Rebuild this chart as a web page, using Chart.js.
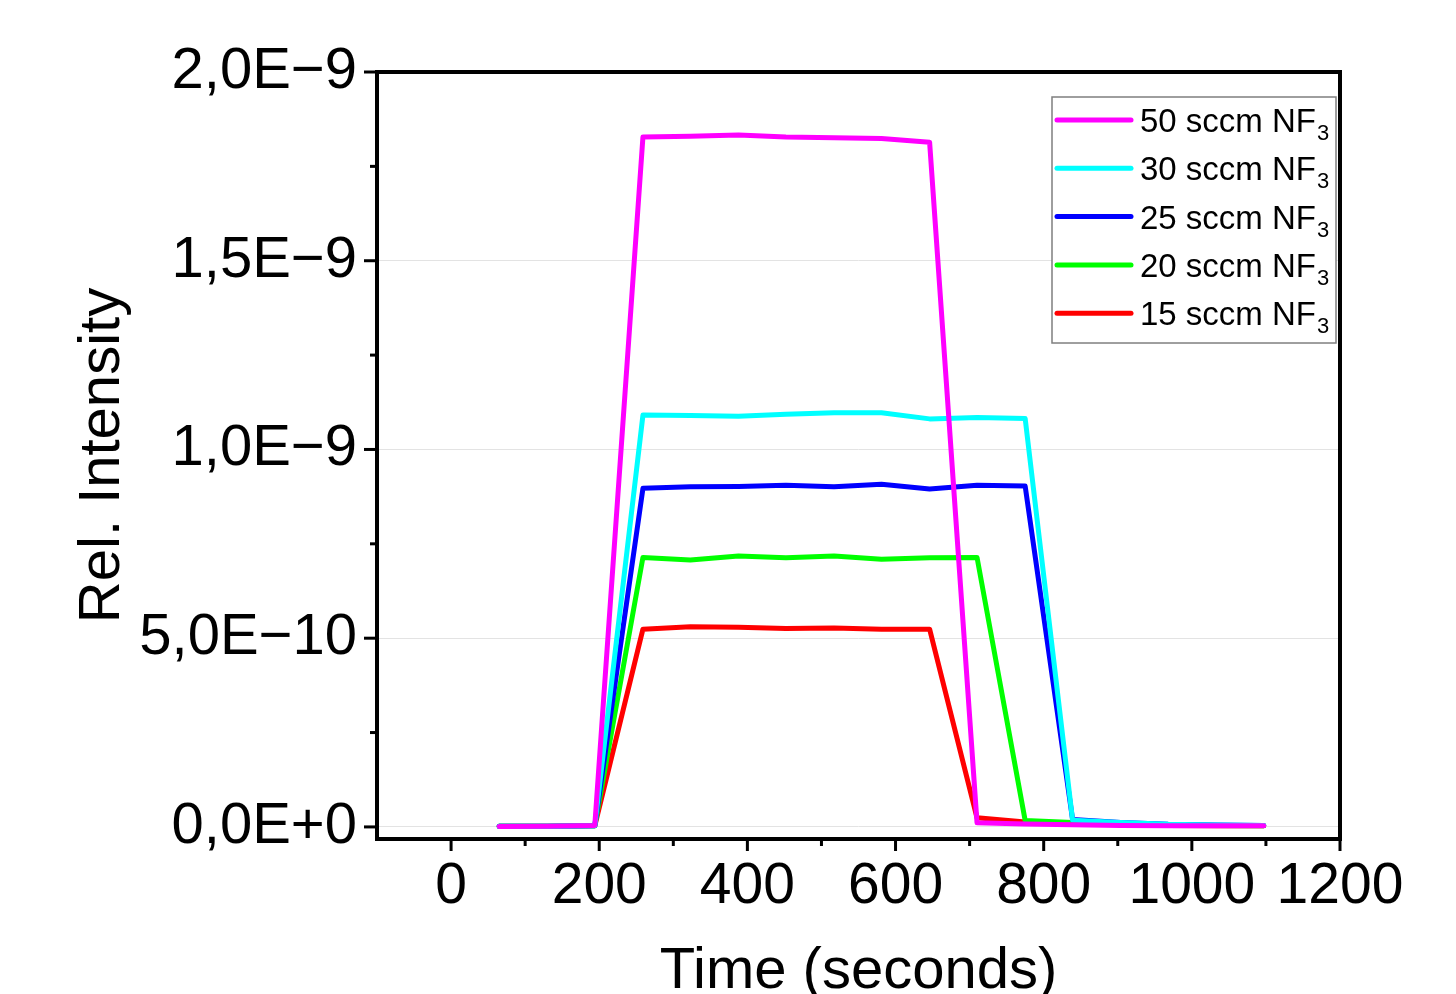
<!DOCTYPE html>
<html>
<head>
<meta charset="utf-8">
<script src="https://cdn.jsdelivr.net/npm/chart.js@4"></script>
<style>
  html, body { margin: 0; padding: 0; background: #fff; }
  #wrap { width: 1456px; height: 994px; }
</style>
</head>
<body>
<div id="wrap"><canvas id="c" width="1456" height="994"></canvas></div>
<script>
// time in seconds
var times = [65, 130, 194, 259, 323, 388, 452, 517, 581, 646, 710, 775, 839, 904, 968, 1033, 1097];
// intensities, in units of 1E-9
var s50 = [0.001, 0.002, 0.004, 1.828, 1.830, 1.833, 1.828, 1.826, 1.824, 1.814, 0.011, 0.008, 0.006, 0.004, 0.003, 0.003, 0.003];
var s30 = [0.002, 0.002, 0.003, 1.091, 1.090, 1.088, 1.093, 1.097, 1.097, 1.081, 1.085, 1.082, 0.018, 0.012, 0.007, 0.005, 0.004];
var s25 = [0.002, 0.002, 0.003, 0.897, 0.901, 0.902, 0.905, 0.901, 0.908, 0.895, 0.905, 0.903, 0.020, 0.012, 0.007, 0.005, 0.004];
var s20 = [0.002, 0.002, 0.003, 0.714, 0.707, 0.718, 0.713, 0.718, 0.709, 0.713, 0.714, 0.017, 0.012, 0.008, 0.005, 0.004, 0.003];
var s15 = [0.002, 0.002, 0.003, 0.524, 0.530, 0.529, 0.526, 0.527, 0.524, 0.524, 0.024, 0.013, 0.009, 0.006, 0.004, 0.003, 0.003];

var names = ['50 sccm NF\u2083', '30 sccm NF\u2083', '25 sccm NF\u2083', '20 sccm NF\u2083', '15 sccm NF\u2083'];
var colors = ['#ff00ff', '#00ffff', '#0000ff', '#00ff00', '#ff0000'];
var series = [s50, s30, s25, s20, s15];

var xTicks = [0, 200, 400, 600, 800, 1000, 1200];
var xMinor = [100, 300, 500, 700, 900, 1100];
var yTicks = [0, 0.5, 1.0, 1.5, 2.0];
var yMinor = [0.25, 0.75, 1.25, 1.75];

var FONT = "'Liberation Sans', Arial, sans-serif";

function sci(v){
	v = v * 1e-9;
	if(Math.abs(v) < 1e-20) return '0,0E+0';
	var e = Math.floor(Math.log10(v) + 1e-9);
	var m = v / Math.pow(10, e);
	return m.toFixed(1).replace('.', ',') + 'E' + (e < 0 ? '\u2212' : '+') + Math.abs(e);
}

var datasets = series.map(function(s, i){
	return {
		label: names[i],
		data: times.map(function(t, k){ return {x: t, y: s[k]}; }),
		borderColor: colors[i],
		backgroundColor: colors[i],
		borderWidth: 5,
		borderJoinStyle: 'round',
		borderCapStyle: 'round',
		pointRadius: 0,
		tension: 0,
		fill: false
	};
});

// frame + outward major/minor ticks
var framePlugin = {
	id: 'frame',
	afterDraw: function(chart){
		var ctx = chart.ctx, a = chart.chartArea, x = chart.scales.x, y = chart.scales.y;
		ctx.save();
		ctx.strokeStyle = '#000';
		ctx.lineWidth = 3;
		function seg(x1, y1, x2, y2){ ctx.beginPath(); ctx.moveTo(x1, y1); ctx.lineTo(x2, y2); ctx.stroke(); }
		xTicks.forEach(function(v){ var p = x.getPixelForValue(v); seg(p, a.bottom, p, a.bottom + 12); });
		xMinor.forEach(function(v){ var p = x.getPixelForValue(v); seg(p, a.bottom, p, a.bottom + 7); });
		yTicks.forEach(function(v){ var p = y.getPixelForValue(v); seg(a.left, p, a.left - 13, p); });
		yMinor.forEach(function(v){ var p = y.getPixelForValue(v); seg(a.left, p, a.left - 7, p); });
		ctx.lineWidth = 4;
		ctx.strokeRect(a.left, a.top, a.right - a.left, a.bottom - a.top);
		ctx.restore();
	}
};

// legend with subscripts
var legendPlugin = {
	id: 'subLegend',
	afterDraw: function(chart){
		var ctx = chart.ctx;
		var bx = 1052, by = 97, bw = 284, bh = 246;
		ctx.save();
		ctx.fillStyle = '#fff';
		ctx.fillRect(bx, by, bw, bh);
		ctx.strokeStyle = '#7f7f7f';
		ctx.lineWidth = 1.5;
		ctx.strokeRect(bx, by, bw, bh);
		chart.data.datasets.forEach(function(ds, i){
			var cy = 120 + i * 48.3;
			ctx.strokeStyle = ds.borderColor;
			ctx.lineWidth = 5;
			ctx.lineCap = 'round';
			ctx.beginPath(); ctx.moveTo(1057, cy); ctx.lineTo(1131, cy); ctx.stroke();
			var txt = ds.label, sub = '';
			if(txt.slice(-1) === '\u2083'){ txt = txt.slice(0, -1); sub = '3'; }
			ctx.fillStyle = '#000';
			ctx.textBaseline = 'alphabetic';
			ctx.textAlign = 'left';
			ctx.font = '33px ' + FONT;
			ctx.fillText(txt, 1140, cy + 12);
			var w = ctx.measureText(txt).width;
			ctx.font = '22px ' + FONT;
			ctx.fillText(sub, 1140 + w + 1, cy + 20);
		});
		ctx.restore();
	}
};

new Chart(document.getElementById('c').getContext('2d'), {
	type: 'line',
	data: { datasets: datasets },
	options: {
		responsive: false,
		animation: false,
		devicePixelRatio: 1,
		layout: { padding: { top: 72, right: 116, left: 0, bottom: 0 } },
		plugins: { legend: { display: false }, tooltip: { enabled: false } },
		scales: {
			x: {
				type: 'linear',
				min: -100, max: 1200,
				afterBuildTicks: function(s){ s.ticks = xTicks.map(function(v){ return {value: v}; }); },
				afterFit: function(s){ s.height = 155; },
				grid: { display: false, drawTicks: false },
				border: { display: false },
				ticks: { color: '#000', padding: 14, maxRotation: 0, autoSkip: false, font: { family: FONT, size: 57 }, callback: function(v){ return String(v); } },
				title: { display: true, text: 'Time (seconds)', color: '#000', padding: 0, font: { family: FONT, size: 58, lineHeight: 0.75 } }
			},
			y: {
				type: 'linear',
				min: -0.032, max: 2.0,
				afterBuildTicks: function(s){ s.ticks = yTicks.map(function(v){ return {value: v}; }); },
				afterFit: function(s){ s.width = 377; },
				grid: { color: '#e3e3e3', lineWidth: 1, drawTicks: false },
				border: { display: false },
				ticks: { color: '#000', padding: 20, autoSkip: false, font: { family: FONT, size: 58 }, callback: function(v){ return sci(v); } },
				title: { display: true, text: 'Rel. Intensity', color: '#000', padding: { top: 81, bottom: 0 }, font: { family: FONT, size: 58, lineHeight: 0.75 } }
			}
		}
	},
	plugins: [framePlugin, legendPlugin]
});
</script>
</body>
</html>
